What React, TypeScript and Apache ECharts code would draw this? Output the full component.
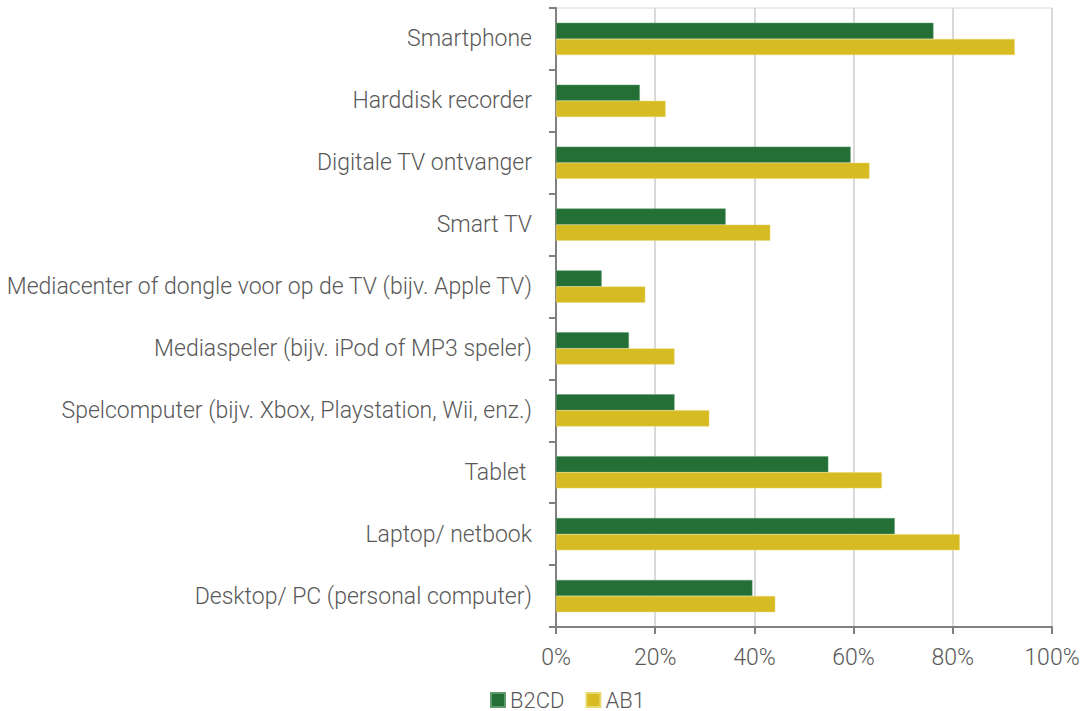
import React, { useEffect, useRef } from "react";
import * as echarts from "echarts";

const categories = [
  "Smartphone",
  "Harddisk recorder",
  "Digitale TV ontvanger",
  "Smart TV",
  "Mediacenter of dongle voor op de TV (bijv. Apple TV)",
  "Mediaspeler (bijv. iPod of MP3 speler)",
  "Spelcomputer (bijv. Xbox, Playstation, Wii, enz.)",
  "Tablet ",
  "Laptop/ netbook",
  "Desktop/ PC (personal computer)",
];

const b2cd = [76.1, 16.9, 59.4, 34.2, 9.2, 14.7, 23.9, 54.9, 68.3, 39.6];
const ab1 = [92.5, 22.1, 63.2, 43.2, 18.0, 23.9, 30.9, 65.7, 81.4, 44.2];

const seriesNames = ["B2CD", "AB1"];
const seriesColors = ["#236f35", "#d6bb22"];
const xTicks = [0, 20, 40, 60, 80, 100];

const FONT = "Roboto, 'Open Sans', sans-serif";

export default function App() {
  const ref = useRef<HTMLDivElement>(null);
  useEffect(() => {
    if (!ref.current) return;
    const chart = echarts.init(ref.current, undefined, { renderer: "svg" });
    chart.setOption({
      animation: false,
      backgroundColor: "#ffffff",
      grid: {
        left: 556,
        right: 36,
        top: 8,
        bottom: 84,
        show: true,
        borderColor: "#d9d9d9",
        borderWidth: 1,
        containLabel: false,
        outerBoundsMode: "none",
      },
      legend: {
        left: 485,
        top: 684,
        itemWidth: 14,
        itemHeight: 14,
        itemGap: 21,
        icon: "rect",
        textStyle: { fontFamily: FONT, fontWeight: 300, fontSize: 22, color: "#595959" },
        data: seriesNames,
      },
      xAxis: {
        type: "value",
        min: xTicks[0],
        max: xTicks[xTicks.length - 1],
        interval: 20,
        axisLine: { show: true, lineStyle: { color: "#808080", width: 2 } },
        axisTick: { show: true, length: 7, lineStyle: { color: "#808080", width: 2 } },
        splitLine: { show: true, lineStyle: { color: "#d9d9d9", width: 2 } },
        axisLabel: {
          margin: 19,
          formatter: (v: number) => v + "%",
          fontFamily: FONT,
          fontWeight: 300,
          fontSize: 23,
          color: "#595959",
        },
      },
      yAxis: {
        type: "category",
        inverse: true,
        data: categories,
        axisLine: { show: true, lineStyle: { color: "#808080", width: 2 } },
        axisTick: { show: true, length: 7, lineStyle: { color: "#808080", width: 2 } },
        axisLabel: {
          margin: 24,
          fontFamily: FONT,
          fontWeight: 300,
          fontSize: 23,
          color: "#595959",
        },
      },
      series: [
        {
          name: seriesNames[0],
          type: "bar",
          data: b2cd,
          itemStyle: { color: seriesColors[0], borderColor: "#5f9a6c", borderWidth: 0.5 },
          barGap: "0%",
          barCategoryGap: "48%",
        },
        {
          name: seriesNames[1],
          type: "bar",
          data: ab1,
          itemStyle: { color: seriesColors[1], borderColor: "#e8d870", borderWidth: 0.5 },
          barGap: "0%",
          barCategoryGap: "48%",
        },
      ],
    });
    return () => chart.dispose();
  }, []);
  return (
    <div
      ref={ref}
      style={{ position: "absolute", left: 0, top: 0, width: 1088, height: 711 }}
    />
  );
}
